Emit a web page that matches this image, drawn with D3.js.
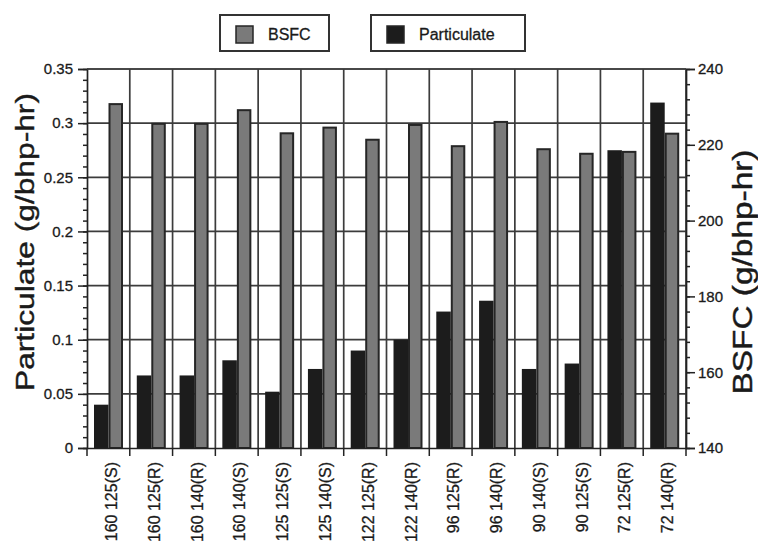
<!DOCTYPE html>
<html>
<head>
<meta charset="utf-8">
<script src="https://d3js.org/d3.v7.min.js"></script>
<style>
  body { margin: 0; background: #fff; }
  svg { display: block; }
  text { font-family: "Liberation Sans", Arial, sans-serif; fill: #1a1a1a; }
</style>
</head>
<body>
<script>
// data
var categories = ["160 125(S)", "160 125(R)", "160 140(R)", "160 140(S)", "125 125(S)", "125 140(S)",
                  "122 125(R)", "122 140(R)", "96 125(R)", "96 140(R)", "90 140(S)", "90 125(S)",
                  "72 125(R)", "72 140(R)"];
var particulate = [0.040, 0.067, 0.067, 0.081, 0.052, 0.073, 0.090, 0.100, 0.126, 0.136, 0.073, 0.078, 0.275, 0.319];
var bsfc = [231.0, 225.8, 225.8, 229.4, 223.3, 224.8, 221.6, 225.5, 219.9, 226.3, 219.1, 217.9, 218.4, 223.2];
var leftTicks = [0, 0.05, 0.1, 0.15, 0.2, 0.25, 0.3, 0.35];
var rightTicks = [140, 160, 180, 200, 220, 240];

var w = 758, h = 544;
var pLeft = 87, pRight = 686, pTop = 69, pBottom = 448;
var dark = "#222", grid = "#3c3c3c";

var svg = d3.select("body").append("svg")
  .attr("width", w)
  .attr("height", h);

var x = d3.scaleBand()
  .domain(categories)
  .range([pLeft, pRight])
  .padding(0);

var xin = d3.scaleBand()
  .domain(["p", "b"])
  .range([7, 36]);

var yL = d3.scaleLinear().domain([0, 0.35]).range([pBottom, pTop]);
var yR = d3.scaleLinear().domain([140, 240]).range([pBottom, pTop]);

// gridlines
var bounds = categories.slice(1).map(function(d) { return x(d); }).concat([pRight]);
var g = svg.append("g");
g.selectAll("line.h")
  .data(leftTicks.slice(1))
  .enter().append("line")
    .attr("x1", pLeft).attr("x2", pRight)
    .attr("y1", function(d) { return yL(d); })
    .attr("y2", function(d) { return yL(d); })
    .attr("stroke", grid).attr("stroke-width", 1.7);
g.selectAll("line.v")
  .data(bounds)
  .enter().append("line")
    .attr("x1", function(d) { return d; })
    .attr("x2", function(d) { return d; })
    .attr("y1", pTop).attr("y2", pBottom)
    .attr("stroke", grid).attr("stroke-width", 1.7);

// bars
var groups = svg.selectAll("g.cat")
  .data(categories)
  .enter().append("g")
    .attr("class", "cat")
    .attr("transform", function(d) { return "translate(" + x(d) + ",0)"; });

groups.append("rect")
  .attr("x", xin("p"))
  .attr("width", xin.bandwidth())
  .attr("y", function(d, i) { return yL(particulate[i]); })
  .attr("height", function(d, i) { return pBottom - yL(particulate[i]); })
  .attr("fill", "#1c1c1c");

groups.append("rect")
  .attr("x", xin("b") + 1)
  .attr("width", xin.bandwidth() - 2)
  .attr("y", function(d, i) { return yR(bsfc[i]) + 1; })
  .attr("height", function(d, i) { return pBottom - yR(bsfc[i]) - 1; })
  .attr("fill", "#7a7a7a")
  .attr("stroke", "#262626")
  .attr("stroke-width", 2);

// axes
var axL = svg.append("g")
  .attr("transform", "translate(" + pLeft + ",0)")
  .call(d3.axisLeft(yL).tickValues(leftTicks).tickSize(9).tickPadding(5)
    .tickFormat(function(d) { return String(+d.toFixed(2)); }));
var axLm = svg.append("g")
  .attr("transform", "translate(" + pLeft + ",0)")
  .call(d3.axisLeft(yL).tickValues(d3.range(0, 0.351, 0.01)).tickSize(4).tickFormat(""));

var axR = svg.append("g")
  .attr("transform", "translate(" + pRight + ",0)")
  .call(d3.axisRight(yR).tickValues(rightTicks).tickSize(9).tickPadding(3));
var axRm = svg.append("g")
  .attr("transform", "translate(" + pRight + ",0)")
  .call(d3.axisRight(yR).tickValues(d3.range(140, 241, 4)).tickSize(4).tickFormat(""));

var axB = svg.append("g")
  .attr("transform", "translate(0," + pBottom + ")")
  .call(d3.axisBottom(x).tickValues([]).tickSizeOuter(0));
axB.selectAll("line.bt")
  .data([pLeft].concat(bounds))
  .enter().append("line")
    .attr("x1", function(d) { return d; })
    .attr("x2", function(d) { return d; })
    .attr("y1", 0).attr("y2", 8)
    .attr("stroke", dark).attr("stroke-width", 1.5);

[axL, axLm, axR, axRm, axB].forEach(function(a) {
  a.selectAll(".domain").attr("stroke", dark).attr("stroke-width", 1.7);
  a.selectAll(".tick line").attr("stroke", dark).attr("stroke-width", 1.5);
  a.selectAll("text").attr("font-size", 15).attr("font-family", "Liberation Sans, Arial, sans-serif")
    .attr("fill", "#1a1a1a").attr("stroke", "#1a1a1a").attr("stroke-width", 0.3);
});
axLm.select(".domain").remove();
axRm.select(".domain").remove();

// top border
svg.append("line")
  .attr("x1", pLeft).attr("x2", pRight).attr("y1", pTop).attr("y2", pTop)
  .attr("stroke", grid).attr("stroke-width", 1.7);

// category labels
svg.selectAll("text.xl")
  .data(categories)
  .enter().append("text")
    .attr("class", "xl")
    .attr("transform", function(d) { return "translate(" + (x(d) + x.bandwidth() / 2 + 3) + ",462) rotate(-90)"; })
    .attr("text-anchor", "end")
    .attr("dy", "0.35em")
    .attr("font-size", 16)
    .attr("stroke", "#1a1a1a")
    .attr("stroke-width", 0.3)
    .text(function(d) { return d; });

// axis titles
svg.append("text")
  .attr("transform", "translate(25,242) rotate(-90)")
  .attr("text-anchor", "middle")
  .attr("dy", "0.35em")
  .attr("font-size", 26)
  .attr("textLength", 298)
  .attr("lengthAdjust", "spacingAndGlyphs")
  .attr("stroke", "#1a1a1a")
  .attr("stroke-width", 0.4)
  .text("Particulate (g/bhp-hr)");

svg.append("text")
  .attr("transform", "translate(743,272) rotate(-90)")
  .attr("text-anchor", "middle")
  .attr("dy", "0.35em")
  .attr("font-size", 27)
  .attr("textLength", 245)
  .attr("lengthAdjust", "spacingAndGlyphs")
  .attr("stroke", "#1a1a1a")
  .attr("stroke-width", 0.4)
  .text("BSFC (g/bhp-hr)");

// legend
var legendItems = [
  { name: "BSFC", x0: 220, x1: 329, fill: "#7a7a7a" },
  { name: "Particulate", x0: 371, x1: 525, fill: "#1c1c1c" }
];
var lg = svg.selectAll("g.lg")
  .data(legendItems)
  .enter().append("g")
    .attr("class", "lg");
lg.append("rect")
  .attr("x", function(d) { return d.x0; })
  .attr("y", 15)
  .attr("width", function(d) { return d.x1 - d.x0; })
  .attr("height", 36)
  .attr("fill", "#fff")
  .attr("stroke", "#333")
  .attr("stroke-width", 2);
lg.append("rect")
  .attr("x", function(d) { return d.x0 + 16; })
  .attr("y", 26)
  .attr("width", 17)
  .attr("height", 17)
  .attr("fill", function(d) { return d.fill; })
  .attr("stroke", "#262626")
  .attr("stroke-width", 1.5);
lg.append("text")
  .attr("x", function(d) { return d.x0 + 48; })
  .attr("y", 34)
  .attr("dy", "0.35em")
  .attr("font-size", 16)
  .attr("stroke", "#1a1a1a")
  .attr("stroke-width", 0.3)
  .text(function(d) { return d.name; });
</script>
</body>
</html>
